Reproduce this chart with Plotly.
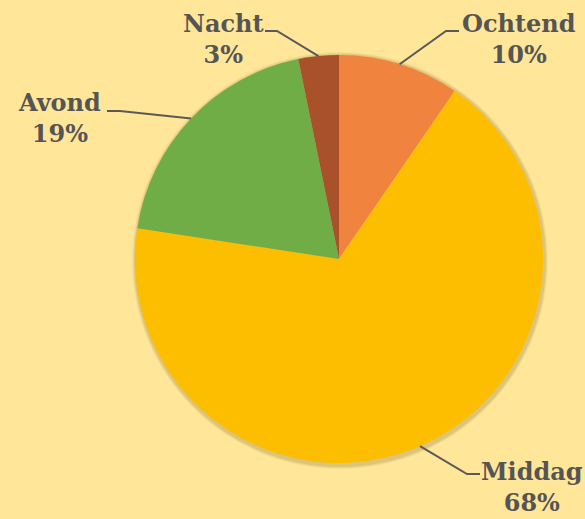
import math
import plotly.graph_objects as go

labels = ["Ochtend", "Middag", "Avond", "Nacht"]
values = [9.6, 67.8, 19.4, 3.2]
colors = ["#F0843E", "#FDBE00", "#71AD47", "#A8512A"]

W, H = 585, 519
CX, CY, R = 339, 259, 204  # pie centre / radius in pixels (layout)

fig = go.Figure()
fig.add_trace(go.Pie(
    labels=labels, values=values, sort=False, direction="clockwise", rotation=0,
    marker=dict(colors=colors, line=dict(width=0)),
    textinfo="none", hoverinfo="label+percent", showlegend=False,
    domain=dict(x=[(CX - R) / W, (CX + R) / W], y=[1 - (CY + R) / H, 1 - (CY - R) / H]),
))

def px(x, y):
    return x / W, 1 - y / H

# soft shadow around the pie
shapes = []
for i, a in enumerate([0.05, 0.07, 0.10]):
    d = 4 - i
    x0, y0 = px(CX - R - d + 1, CY - R - d + 1)
    x1, y1 = px(CX + R + d + 1, CY + R + d + 2)
    shapes.append(dict(type="circle", xref="paper", yref="paper", x0=x0, y0=y1, x1=x1, y1=y0,
                       fillcolor=f"rgba(90,70,0,{a})", line=dict(width=0), layer="below"))

# label placement (layout) : elbow point, end of horizontal, label centre
label_layout = {
    "Ochtend": dict(elbow=(446, 31), end=(459, 31), text=(519, 39)),
    "Middag": dict(elbow=(467, 474), end=(480, 474), text=(532, 487)),
    "Avond": dict(elbow=(120, 111), end=(107, 111), text=(59, 118)),
    "Nacht": dict(elbow=(277, 31), end=(265, 31), text=(223, 39)),
}

total = sum(values)
cum = 0
annotations = []
for lab, v in zip(labels, values):
    mid = (cum + v / 2) / total * 2 * math.pi
    cum += v
    ex, ey = CX + R * math.sin(mid), CY - R * math.cos(mid)
    L = label_layout[lab]
    p0 = px(ex, ey); p1 = px(*L["elbow"]); p2 = px(*L["end"])
    shapes.append(dict(type="path", xref="paper", yref="paper",
                       path=f"M {p0[0]} {p0[1]} L {p1[0]} {p1[1]} L {p2[0]} {p2[1]}",
                       line=dict(color="#595959", width=2)))
    tx, ty = px(*L["text"])
    pct = round(v / total * 100)
    annotations.append(dict(xref="paper", yref="paper", x=tx, y=ty, xanchor="center", yanchor="middle",
                            text=f"<b>{lab}</b><br><b>{pct}%</b>", showarrow=False, align="center",
                            font=dict(family="DejaVu Serif", size=24, color="#555555")))

fig.update_layout(
    width=W, height=H, margin=dict(l=0, r=0, t=0, b=0),
    paper_bgcolor="#FFE699", plot_bgcolor="#FFE699",
    shapes=shapes, annotations=annotations,
)
fig.write_html("out.html", config={"displayModeBar": False},
               post_script="document.body.style.margin='0';")
